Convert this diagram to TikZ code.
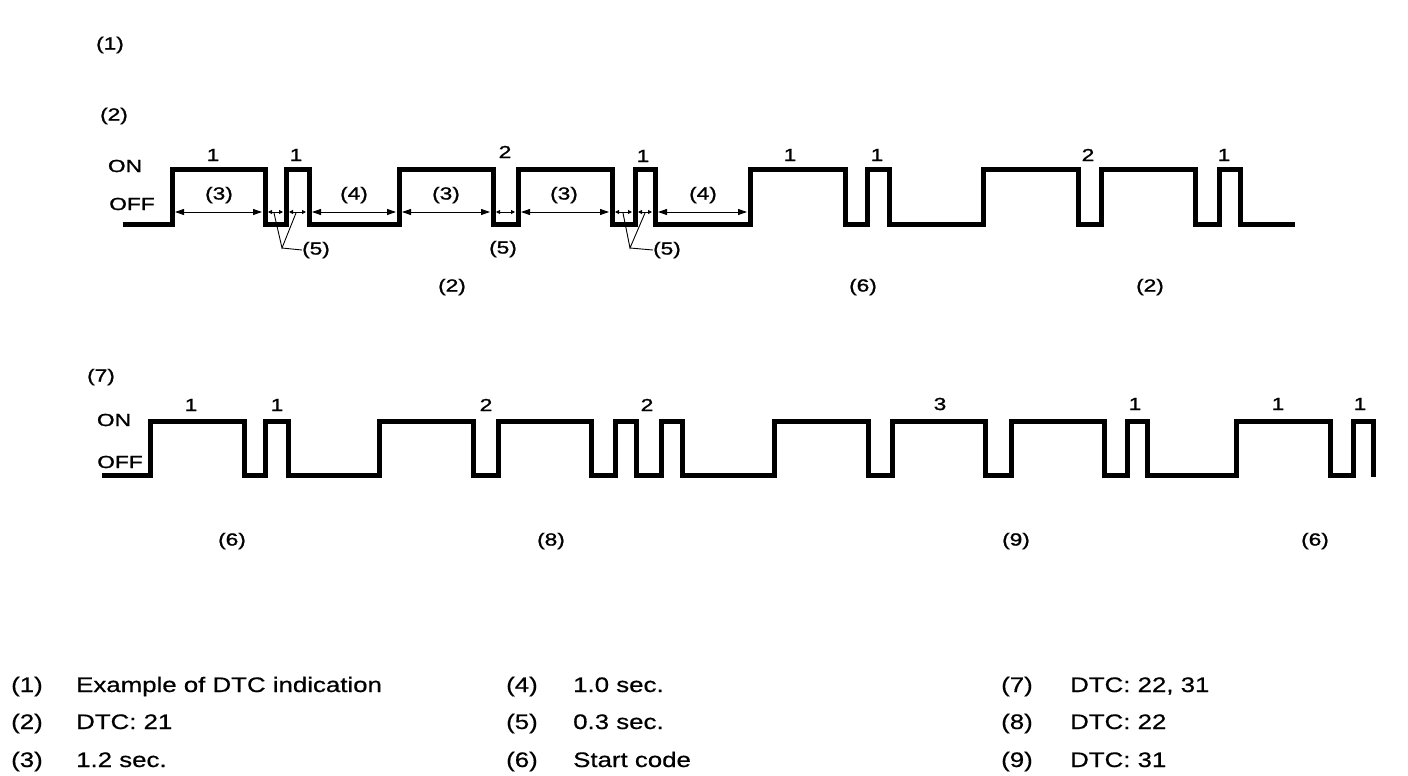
\documentclass[tikz,border=0pt]{standalone}
\usepackage{fontspec}
\setmainfont{Liberation Sans}
\newfontfamily\labfont[FakeStretch=1.3,FakeBold=1.2]{Liberation Sans}
\newfontfamily\legfont[FakeStretch=1.23,FakeBold=0.6]{Liberation Sans}
\usetikzlibrary{arrows.meta}
\begin{document}
\begin{tikzpicture}[x=1pt,y=-1pt,
  wave/.style={line width=5pt,line join=miter,line cap=butt},
  dimbig/.style={line width=0.9pt,{Triangle[length=9pt,width=6pt]}-{Triangle[length=9pt,width=6pt]}},
  dimsmall/.style={line width=0.9pt,{Triangle[length=4pt,width=4pt]}-{Triangle[length=4pt,width=4pt]}},
  leader/.style={line width=0.9pt},
  lab/.style={inner sep=0pt,font=\labfont\fontsize{17.5}{20}\selectfont},
  leg/.style={inner sep=0pt,anchor=base west,font=\legfont\fontsize{21}{24}\selectfont}]
\useasboundingbox (0,0) rectangle (1408,776);
% ---------- waveform 1 ----------
\draw[wave] (123,224) -- (172,224) -- (172,169) -- (265,169) -- (265,224) -- (286,224) -- (286,169) -- (309,169) -- (309,224)
  -- (399,224) -- (399,169) -- (493,169) -- (493,224) -- (518,224) -- (518,169) -- (612,169) -- (612,224) -- (635,224)
  -- (635,169) -- (655,169) -- (655,224) -- (750,224) -- (750,169) -- (845,169) -- (845,224) -- (867,224) -- (867,169)
  -- (889,169) -- (889,224) -- (983,224) -- (983,169) -- (1078,169) -- (1078,224) -- (1101,224) -- (1101,169)
  -- (1195,169) -- (1195,224) -- (1219,224) -- (1219,169) -- (1240,169) -- (1240,224) -- (1295,224);
% dimension line
\foreach \a/\b/\s in {172/265/dimbig,265/286/dimsmall,286/309/dimsmall,309/399/dimbig,399/493/dimbig,
  493/518/dimsmall,518/612/dimbig,612/635/dimsmall,635/655/dimsmall,655/750/dimbig}
  {\draw[\s] (\a+3,212) -- (\b-3,212);}
% leaders for (5)
\coordinate (v1) at (282,248);
\coordinate (v1a) at (274,213);
\coordinate (v1b) at (296,213);
\coordinate (v2) at (630,248);
\coordinate (v2a) at (623,213);
\coordinate (v2b) at (645,213);
\node[lab] (f1) at (316,250) {(5)};
\node[lab] (f2) at (503,249) {(5)};
\node[lab] (f3) at (667,250) {(5)};
\draw[leader] (v1a) -- (v1) -- (v1b);
\draw[leader] (v1) -- (f1.west);
\draw[leader] (v2a) -- (v2) -- (v2b);
\draw[leader] (v2) -- (f3.west);
% labels waveform 1
\node[lab] (l1) at (110,45) {(1)};
\node[lab] (l2) at (114,116) {(2)};
\node[lab] (on1) at (125,166) {ON};
\node[lab] (off1) at (132,204) {OFF};
\node[lab] (n1) at (213,155) {1};
\node[lab] (n2) at (296,155) {1};
\node[lab] (n3) at (505,152) {2};
\node[lab] (n4) at (643,156) {1};
\node[lab] (n5) at (790,155) {1};
\node[lab] (n6) at (877,155) {1};
\node[lab] (n7) at (1088,155) {2};
\node[lab] (n8) at (1224,155) {1};
\node[lab] (d1) at (219,195) {(3)};
\node[lab] (d2) at (354,195) {(4)};
\node[lab] (d3) at (446,195) {(3)};
\node[lab] (d4) at (564,195) {(3)};
\node[lab] (d5) at (703,195) {(4)};
\node[lab] (b1) at (452,287) {(2)};
\node[lab] (b2) at (863,287) {(6)};
\node[lab] (b3) at (1150,287) {(2)};
% ---------- waveform 2 ----------
\draw[wave] (102,475) -- (150,475) -- (150,421) -- (244,421) -- (244,475) -- (265,475) -- (265,421) -- (288,421) -- (288,475)
  -- (379,475) -- (379,421) -- (473,421) -- (473,475) -- (498,475) -- (498,421) -- (591,421) -- (591,475) -- (615,475)
  -- (615,421) -- (636,421) -- (636,475) -- (661,475) -- (661,421) -- (682,421) -- (682,475) -- (774,475) -- (774,421)
  -- (868,421) -- (868,475) -- (892,475) -- (892,421) -- (985,421) -- (985,475) -- (1011,475) -- (1011,421)
  -- (1104,421) -- (1104,475) -- (1127,475) -- (1127,421) -- (1147,421) -- (1147,475) -- (1236,475) -- (1236,421)
  -- (1330,421) -- (1330,475) -- (1353,475) -- (1353,421) -- (1373,421) -- (1373,477);
\node[lab] (l7) at (101,377) {(7)};
\node[lab] (on2) at (114,420) {ON};
\node[lab] (off2) at (120,462) {OFF};
\node[lab] (m1) at (191,405) {1};
\node[lab] (m2) at (277,405) {1};
\node[lab] (m3) at (486,405) {2};
\node[lab] (m4) at (647,405) {2};
\node[lab] (m5) at (940,404) {3};
\node[lab] (m6) at (1135,404) {1};
\node[lab] (m7) at (1278,404) {1};
\node[lab] (m8) at (1360,404) {1};
\node[lab] (c1) at (232,541) {(6)};
\node[lab] (c2) at (551,541) {(8)};
\node[lab] (c3) at (1016,541) {(9)};
\node[lab] (c4) at (1315,541) {(6)};
% ---------- legend ----------
\node[leg] (k1) at (11,692) {(1)};
\node[leg] (t1) at (76,692) {Example of DTC indication};
\node[leg] (k2) at (11,729) {(2)};
\node[leg] (t2) at (76,729) {DTC: 21};
\node[leg] (k3) at (11,767) {(3)};
\node[leg] (t3) at (76,767) {1.2 sec.};
\node[leg] (k4) at (506,692) {(4)};
\node[leg] (t4) at (573,692) {1.0 sec.};
\node[leg] (k5) at (506,729) {(5)};
\node[leg] (t5) at (573,729) {0.3 sec.};
\node[leg] (k6) at (506,767) {(6)};
\node[leg] (t6) at (573,767) {Start code};
\node[leg] (k7) at (1001,692) {(7)};
\node[leg] (t7) at (1070,692) {DTC: 22, 31};
\node[leg] (k8) at (1001,729) {(8)};
\node[leg] (t8) at (1070,729) {DTC: 22};
\node[leg] (k9) at (1001,767) {(9)};
\node[leg] (t9) at (1070,767) {DTC: 31};
\end{tikzpicture}
\end{document}
